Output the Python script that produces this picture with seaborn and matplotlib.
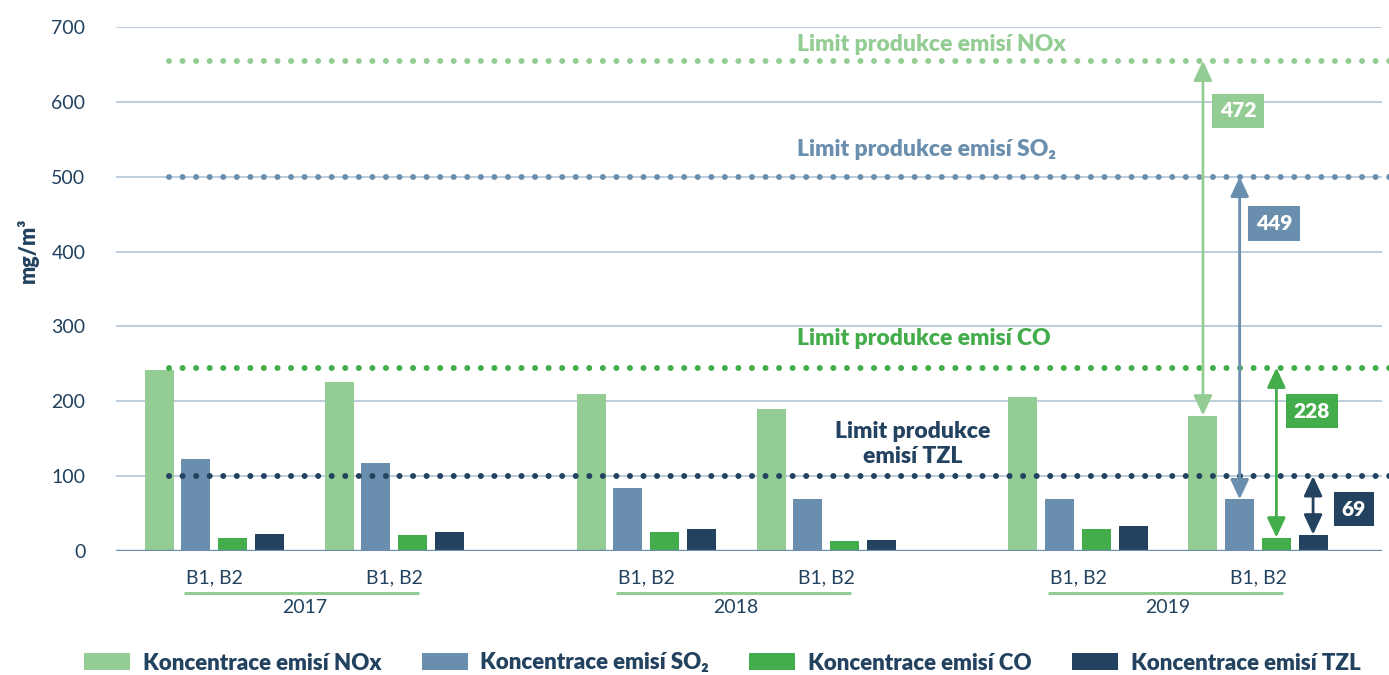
import numpy as np
import pandas as pd
import matplotlib
matplotlib.use("Agg")
import matplotlib.pyplot as plt
import seaborn as sns
from matplotlib.transforms import blended_transform_factory

# ---------------- data ----------------
years = ["2017", "2018", "2019"]
unit_label = "B1, B2"
pollutants = ["Koncentrace emisí NOx", "Koncentrace emisí SO₂",
              "Koncentrace emisí CO", "Koncentrace emisí TZL"]
# two boiler groups per year (2017 a, 2017 b, 2018 a, 2018 b, 2019 a, 2019 b)
nox = [242, 226, 210, 190, 206, 181]
so2 = [123, 118, 84, 69, 69, 69]
co = [18, 21, 25, 13, 29, 18]
tzl = [23, 25, 30, 15, 34, 22]

limit_labels = ["Limit produkce emisí NOx", "Limit produkce emisí SO₂",
                "Limit produkce emisí CO", "Limit produkce\nemisí TZL"]
limit_values = [655, 500, 245, 100]
gap_labels = ["472", "449", "228", "69"]

# ---------------- style ----------------
c_nox = "#94cd94"
c_so2 = "#6a8fae"
c_co = "#42ad4a"
c_tzl = "#22425f"
colors = [c_nox, c_so2, c_co, c_tzl]
navy = "#22425f"
grid_c = "#b3c5d6"

sns.set_style("white")
plt.rcParams["font.family"] = ["Lato", "DejaVu Sans"]

W, H = 1389, 675
fig = plt.figure(figsize=(W / 100, H / 100), dpi=100)
ax_left, ax_right, ax_top, ax_bot = 116, 1382, 27, 551
ax = fig.add_axes([ax_left / W, 1 - ax_bot / H, (ax_right - ax_left) / W, (ax_bot - ax_top) / H])

# long-form table
group_year = [0, 0, 1, 1, 2, 2]
group_sub = [0, 1, 0, 1, 0, 1]
positions = [yi * 2.4 + si for yi, si in zip(group_year, group_sub)]
rows = []
for series, name in zip([nox, so2, co, tzl], pollutants):
    for p, v in zip(positions, series):
        rows.append({"pos": p, "value": v, "pollutant": name})
df = pd.DataFrame(rows)

group_width = 0.816
sns.barplot(data=df, x="pos", y="value", hue="pollutant", hue_order=pollutants,
            palette=colors, saturation=1, native_scale=True, width=group_width, gap=0.21,
            dodge=True, errorbar=None, linewidth=0, ax=ax, zorder=2)

ax.set_xlim(-0.546, 6.489)
ax.set_ylim(0, 700)
for s in ax.spines.values():
    s.set_visible(False)

# grid and baseline
ax.set_yticks(range(0, 701, 100))
ax.yaxis.grid(True, color=grid_c, lw=1.2, zorder=0)
ax.set_axisbelow(True)
ax.axhline(0, color=c_so2, lw=2.4, zorder=5)
ax.tick_params(axis="y", length=0, pad=22, labelsize=14, labelcolor=navy)
ax.tick_params(axis="x", length=0, pad=13, labelsize=14, labelcolor=navy)
ax.set_xticks(positions)
ax.set_xticklabels([unit_label] * len(positions))
ax.set_xlabel("")
ax.set_ylabel("")

# year labels with underline
trans = blended_transform_factory(ax.transData, ax.transAxes)
for yi, yr in enumerate(years):
    x0 = yi * 2.4
    ax.plot([x0 - 0.167, x0 + 1.139], [-0.080, -0.080], color=c_nox, lw=2.2,
            transform=trans, clip_on=False, solid_capstyle="butt")
    ax.text(x0 + 0.5, -0.107, yr, transform=trans, ha="center", va="center",
            fontsize=14, color=navy)

# limit dotted lines
for v, c in zip(limit_values, colors):
    ax.plot([-0.25, 6.54], [v, v], color=c, lw=4.3, linestyle=(0, (0.01, 2.26)),
            dash_capstyle="round", clip_on=False, zorder=6)

# limit labels
lx = 3.239
lab_fs = 16.5
heavy = "heavy"
ax.text(lx, 676, limit_labels[0], color=c_nox, fontsize=lab_fs, fontweight=heavy,
        ha="left", va="center")
ax.text(lx, 536, limit_labels[1], color=c_so2, fontsize=lab_fs, fontweight=heavy,
        ha="left", va="center")
ax.text(lx, 284.5, limit_labels[2], color=c_co, fontsize=lab_fs, fontweight=heavy,
        ha="left", va="center")
ax.text(3.883, 143, limit_labels[3], color=navy, fontsize=lab_fs, fontweight=heavy,
        ha="center", va="center", linespacing=1.25)

# arrows from limit to last bars
n_h = len(pollutants)
slot = group_width / n_h
last_pos = positions[-1]
last_vals = [nox[-1], so2[-1], co[-1], tzl[-1]]
box_xy = [(5.689, 587.8), (5.889, 438), (6.10, 187), (6.333, 56)]
for i in range(n_h):
    xc = last_pos + (i - (n_h - 1) / 2) * slot
    ax.annotate("", xy=(xc, last_vals[i]), xytext=(xc, limit_values[i]),
                arrowprops=dict(arrowstyle="<|-|>,head_length=0.6,head_width=0.28",
                                color=colors[i], lw=2.0, shrinkA=0, shrinkB=0,
                                mutation_scale=20),
                zorder=7)
    bx, by = box_xy[i]
    ax.text(bx, by, gap_labels[i], color="white", fontsize=15, fontweight=heavy,
            ha="center", va="center", zorder=8,
            bbox=dict(boxstyle="square,pad=0.38", fc=colors[i], ec="none"))

# y label
fig.text(28 / W, 1 - 250 / H, "mg/m³", rotation=90, ha="center", va="center",
         fontsize=15.5, fontweight=heavy, color=navy)

# legend
handles, labels = ax.get_legend_handles_labels()
if ax.get_legend() is not None:
    ax.get_legend().remove()
leg_fs = 16.0
fs_px = leg_fs * 100 / 72
fig.legend(handles, labels, loc="center left", bbox_to_anchor=(84 / W, 1 - 663 / H),
           ncol=4, frameon=False, borderpad=0, borderaxespad=0,
           handlelength=46 / fs_px, handleheight=18 / fs_px,
           handletextpad=13 / fs_px, columnspacing=40 / fs_px,
           prop={"size": leg_fs, "weight": heavy}, labelcolor=navy)

fig.savefig("out.png", dpi=100)
